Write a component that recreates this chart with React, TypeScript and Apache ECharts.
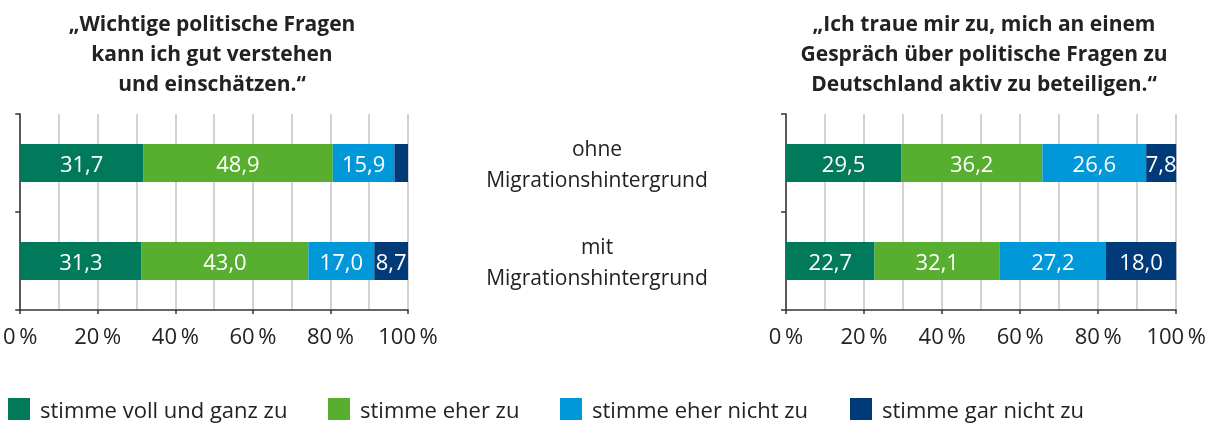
import React, { useEffect, useRef } from "react";
import * as echarts from "echarts";

const categories = ["ohne\nMigrationshintergrund", "mit\nMigrationshintergrund"];
const seriesNames = ["stimme voll und ganz zu", "stimme eher zu", "stimme eher nicht zu", "stimme gar nicht zu"];
const colors = ["#007a5a", "#57ae2f", "#0098d8", "#003a78"];
const titleLeft = "„Wichtige politische Fragen\nkann ich gut verstehen\nund einschätzen.“";
const titleRight = "„Ich traue mir zu, mich an einem\nGespräch über politische Fragen zu\nDeutschland aktiv zu beteiligen.“";
// values per series: [ohne, mit]
const leftValues = [
  [31.7, 31.3],
  [48.9, 43.0],
  [15.9, 17.0],
  [3.5, 8.7],
];
const rightValues = [
  [29.5, 22.7],
  [36.2, 32.1],
  [26.6, 27.2],
  [7.8, 18.0],
];
const tickValues = [0, 20, 40, 60, 80, 100];

const FONT = "Open Sans";

export default function App() {
  const ref = useRef<HTMLDivElement>(null);
  useEffect(() => {
    document.body.style.margin = "0";
    const chart = echarts.init(ref.current!, null, { renderer: "svg" });
    const grids = [
      { left: 15, top: 114, width: 393, height: 196 },
      { left: 786, top: 114, width: 393, height: 196 },
    ];
    const xAxis = grids.map((_, i) => ({
      type: "value",
      gridIndex: i,
      min: 0,
      max: 100,
      interval: 20,
      axisLine: { show: true, lineStyle: { color: "#333", width: 1.5 } },
      axisTick: { show: true, length: 4, lineStyle: { color: "#333", width: 1.5 } },
      axisLabel: {
        fontFamily: FONT,
        fontSize: 22,
        color: "#222",
        margin: 14,
        formatter: (v: number) => (tickValues.includes(v) ? v + "\u2009%" : ""),
      },
      splitLine: { show: true, lineStyle: { color: "#c4c4c4", width: 1.5 } },
      minorTick: { show: false, splitNumber: 2 },
      minorSplitLine: { show: true, lineStyle: { color: "#c4c4c4", width: 1.5 } },
    }));
    const yAxis = grids.map((_, i) => ({
      type: "category",
      gridIndex: i,
      inverse: true,
      data: categories,
      axisLine: { show: true, lineStyle: { color: "#333", width: 1.5 } },
      axisTick: { show: true, length: 5, lineStyle: { color: "#333", width: 1.5 } },
      axisLabel: {
        show: i === 1,
        align: "center",
        margin: 189,
        fontFamily: FONT,
        fontSize: 21,
        lineHeight: 31,
        color: "#222",
        padding: [8, 0, 0, 0],
      },
      splitLine: { show: false },
    }));
    const fmt = (v: number) => v.toFixed(1).replace(".", ",");
    const mk = (vals: number[][], gi: number) =>
      vals.map((arr, s) => ({
        type: "bar",
        name: seriesNames[s],
        stack: "s" + gi,
        xAxisIndex: gi,
        yAxisIndex: gi,
        barWidth: 38,
        data: arr,
        itemStyle: { color: colors[s] },
        label: {
          show: true,
          position: "inside",
          color: "#fff",
          fontFamily: FONT,
          fontSize: 22,
          formatter: (p: any) => (p.value >= 5 ? fmt(p.value) : ""),
        },
      }));
    const legendLefts = [8, 328, 560, 850];
    chart.setOption({
      animation: false,
      title: [
        {
          text: titleLeft,
          left: 207,
          top: 3,
          textAlign: "center",
          textStyle: { fontFamily: FONT, fontSize: 21, fontWeight: "bold", color: "#222", lineHeight: 30 },
        },
        {
          text: titleRight,
          left: 979,
          top: 3,
          textAlign: "center",
          textStyle: { fontFamily: FONT, fontSize: 21, fontWeight: "bold", color: "#222", lineHeight: 30 },
        },
      ],
      legend: seriesNames.map((n, i) => ({
        data: [n],
        left: legendLefts[i],
        top: 398,
        padding: 0,
        itemWidth: 22,
        itemHeight: 22,
        itemGap: 10,
        icon: "rect",
        selectedMode: false,
        textStyle: { fontFamily: FONT, fontSize: 22, color: "#222", padding: [0, 0, 0, 5] },
      })),
      grid: grids,
      xAxis,
      yAxis,
      series: [...mk(leftValues, 0), ...mk(rightValues, 1)],
    });
    return () => chart.dispose();
  }, []);
  return <div ref={ref} style={{ position: "fixed", left: 0, top: 0, width: 1209, height: 424 }} />;
}
